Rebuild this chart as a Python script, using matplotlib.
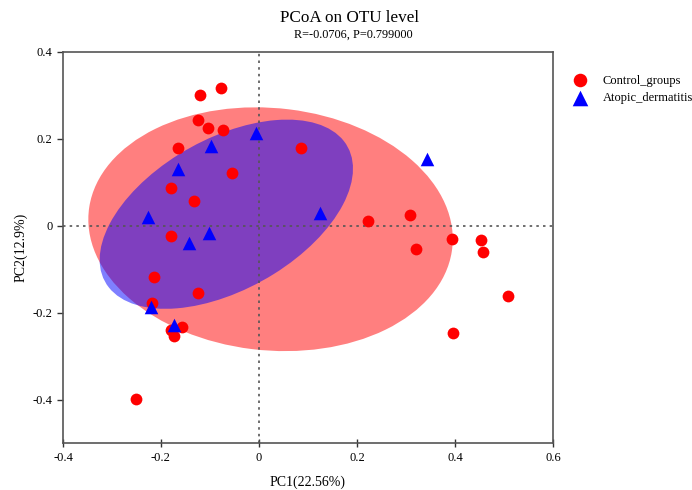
import numpy as np
import matplotlib.pyplot as plt
from matplotlib.patches import Ellipse

# PCoA coordinates
control_x = [-0.078, -0.120, -0.124, -0.104, -0.073, -0.165, 0.086, -0.055, -0.180,
             -0.133, -0.180, 0.222, 0.308, 0.320, 0.394, 0.453, 0.457, 0.508,
             0.396, -0.214, -0.124, -0.218, -0.157, -0.180, -0.173, -0.251]
control_y = [0.317, 0.301, 0.244, 0.225, 0.221, 0.179, 0.179, 0.122, 0.087,
             0.057, -0.023, 0.011, 0.025, -0.053, -0.030, -0.032, -0.060, -0.161,
             -0.248, -0.117, -0.154, -0.177, -0.232, -0.239, -0.253, -0.398]
atopic_x = [-0.006, -0.098, -0.165, 0.125, -0.227, -0.102, -0.143, 0.343, -0.220, -0.173]
atopic_y = [0.214, 0.184, 0.131, 0.030, 0.021, -0.016, -0.039, 0.154, -0.186, -0.228]

x_ticks = [-0.4, -0.2, 0, 0.2, 0.4, 0.6]
y_ticks = [-0.4, -0.2, 0, 0.2, 0.4]
x_tick_labels = ['-0.4', '-0.2', '0', '0.2', '0.4', '0.6']
y_tick_labels = ['-0.4', '-0.2', '0', '0.2', '0.4']

plt.rcParams['font.family'] = ['Liberation Serif', 'DejaVu Serif']


def confidence_ellipse(x, y, level=0.65, **kwargs):
    # normal-theory ellipse, chi-square (2 dof) radius
    pts = np.column_stack([x, y])
    centre = pts.mean(axis=0)
    cov = np.cov(pts, rowvar=False)
    radius = np.sqrt(-2 * np.log(1 - level))
    vals, vecs = np.linalg.eigh(cov)
    order = vals.argsort()[::-1]
    vals, vecs = vals[order], vecs[:, order]
    angle = np.degrees(np.arctan2(vecs[1, 0], vecs[0, 0]))
    return Ellipse(centre, 2 * radius * np.sqrt(vals[0]), 2 * radius * np.sqrt(vals[1]),
                   angle=angle, **kwargs)


fig = plt.figure(figsize=(6.92, 4.90), dpi=100)
ax = fig.add_axes([0.091, 0.096, 0.708, 0.798])

ax.add_patch(confidence_ellipse(control_x, control_y, facecolor='red', alpha=0.5,
                                edgecolor='none', zorder=1))
ax.add_patch(confidence_ellipse(atopic_x, atopic_y, facecolor='blue', alpha=0.5,
                                edgecolor='none', zorder=2))

ax.axvline(0, color='#555555', linestyle=(0, (1.5, 2.5)), linewidth=1.2, zorder=3)
ax.axhline(0, color='#555555', linestyle=(0, (1.5, 2.5)), linewidth=1.2, zorder=3)

ax.scatter(control_x, control_y, s=72, c='red', marker='o', linewidths=0,
           label='Control_groups', zorder=4)
ax.scatter(atopic_x, atopic_y, s=95, c='blue', marker='^', linewidths=0,
           label='Atopic_dermatitis', zorder=5)

ax.set_xlim(-0.4, 0.6)
ax.set_ylim(-0.5, 0.4)
ax.set_xticks(x_ticks)
ax.set_xticklabels(x_tick_labels)
ax.set_yticks(y_ticks)
ax.set_yticklabels(y_tick_labels)
ax.tick_params(labelsize=9, color='#333333', length=4, width=1)
ax.tick_params(axis='x', direction='inout', length=6)
for spine in ax.spines.values():
    spine.set_color('#555555')
    spine.set_linewidth(1.2)

ax.set_xlabel('PC1(22.56%)', fontsize=10, labelpad=8)
ax.set_ylabel('PC2(12.9%)', fontsize=10, labelpad=4)

fig.text(0.505, 0.955, 'PCoA on OTU level', ha='center', fontsize=12.3)
fig.text(0.511, 0.922, 'R=-0.0706, P=0.799000', ha='center', fontsize=8.8)

ax.legend(loc='upper left', bbox_to_anchor=(1.02, 0.955), frameon=False,
          fontsize=9, handletextpad=0.8, labelspacing=0.45, borderaxespad=0,
          markerscale=1.15)

fig.savefig('out.png', dpi=100)
